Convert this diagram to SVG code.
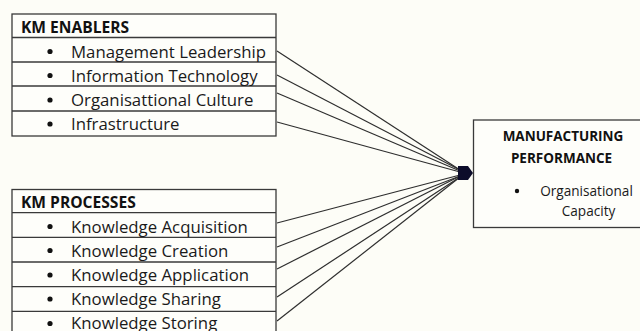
<svg xmlns="http://www.w3.org/2000/svg" width="640" height="331" viewBox="0 0 640 331">
  <defs>
    <style>
      .bg { fill: #fdfdf7; }
      .box { fill: #fefefa; stroke: #3a3a3a; stroke-width: 1.3; }
      .sep { stroke: #3a3a3a; stroke-width: 1.3; }
      .head { font-family: "Open Sans", "Liberation Sans", sans-serif; font-weight: bold; font-size: 15.6px; fill: #111; }
      .item { font-family: "Open Sans", "Liberation Sans", sans-serif; font-size: 16.8px; fill: #1a1a1a; }
      .mhead { font-family: "Open Sans", "Liberation Sans", sans-serif; font-weight: bold; font-size: 13.5px; fill: #111; text-anchor: middle; }
      .mitem { font-family: "Open Sans", "Liberation Sans", sans-serif; font-size: 13.6px; fill: #1a1a1a; text-anchor: middle; }
      .dot { fill: #111; }
      .link { fill: none; stroke: #2e2e2e; stroke-width: 1.2; }
    </style>
  </defs>
  <rect class="bg" x="0" y="0" width="640" height="331"/>

  <!-- connectors from each list row to the performance node -->
  <g id="connectors">
    <line class="link" x1="277" y1="51" x2="460" y2="170"/>
    <line class="link" x1="277" y1="75" x2="460" y2="170"/>
    <line class="link" x1="277" y1="93" x2="460" y2="171"/>
    <line class="link" x1="277" y1="122" x2="460" y2="172"/>
    <line class="link" x1="277" y1="223" x2="460" y2="175"/>
    <line class="link" x1="277" y1="247" x2="460" y2="176"/>
    <line class="link" x1="277" y1="269" x2="460" y2="176"/>
    <line class="link" x1="277" y1="297" x2="460" y2="177"/>
    <line class="link" x1="277" y1="321" x2="460" y2="177"/>
    <polygon points="458,166 468,166 473,173 468,180 458,180" fill="#0c0c2a"/>
  </g>

  <!-- KM enablers list -->
  <g id="km-enablers">
    <rect class="box" x="12" y="14" width="264" height="122"/>
    <line class="sep" x1="12" y1="37.5" x2="276" y2="37.5"/>
    <line class="sep" x1="12" y1="62" x2="276" y2="62"/>
    <line class="sep" x1="12" y1="86" x2="276" y2="86"/>
    <line class="sep" x1="12" y1="111" x2="276" y2="111"/>
    <text class="head" x="21" y="32.5">KM ENABLERS</text>
    <circle class="dot" cx="50" cy="51.5" r="2.6"/>
    <text class="item" x="71" y="57.5">Management Leadership</text>
    <circle class="dot" cx="50" cy="75.5" r="2.6"/>
    <text class="item" x="71" y="81.5">Information Technology</text>
    <circle class="dot" cx="50" cy="100" r="2.6"/>
    <text class="item" x="71" y="106">Organisattional Culture</text>
    <circle class="dot" cx="50" cy="124" r="2.6"/>
    <text class="item" x="71" y="130">Infrastructure</text>
  </g>

  <!-- KM processes list -->
  <g id="km-processes">
    <rect class="box" x="12" y="189.5" width="264" height="150"/>
    <line class="sep" x1="12" y1="212.7" x2="276" y2="212.7"/>
    <line class="sep" x1="12" y1="237.3" x2="276" y2="237.3"/>
    <line class="sep" x1="12" y1="262" x2="276" y2="262"/>
    <line class="sep" x1="12" y1="286.7" x2="276" y2="286.7"/>
    <line class="sep" x1="12" y1="311.3" x2="276" y2="311.3"/>
    <text class="head" x="21" y="207.5">KM PROCESSES</text>
    <circle class="dot" cx="50" cy="226.5" r="2.6"/>
    <text class="item" x="71" y="232.5">Knowledge Acquisition</text>
    <circle class="dot" cx="50" cy="250.5" r="2.6"/>
    <text class="item" x="71" y="256.5">Knowledge Creation</text>
    <circle class="dot" cx="50" cy="275" r="2.6"/>
    <text class="item" x="71" y="281">Knowledge Application</text>
    <circle class="dot" cx="50" cy="299" r="2.6"/>
    <text class="item" x="71" y="305">Knowledge Sharing</text>
    <circle class="dot" cx="50" cy="323.5" r="2.6"/>
    <text class="item" x="71" y="329">Knowledge Storing</text>
  </g>

  <!-- manufacturing performance outcome -->
  <g id="manufacturing-performance">
    <rect class="box" x="473.5" y="120" width="170" height="107.5"/>
    <text class="mhead" x="563" y="140.5">MANUFACTURING</text>
    <text class="mhead" x="561.5" y="162.5">PERFORMANCE</text>
    <circle class="dot" cx="517" cy="191" r="2.2"/>
    <text class="mitem" x="586.5" y="196">Organisational</text>
    <text class="mitem" x="588.5" y="215.5">Capacity</text>
  </g>
</svg>
